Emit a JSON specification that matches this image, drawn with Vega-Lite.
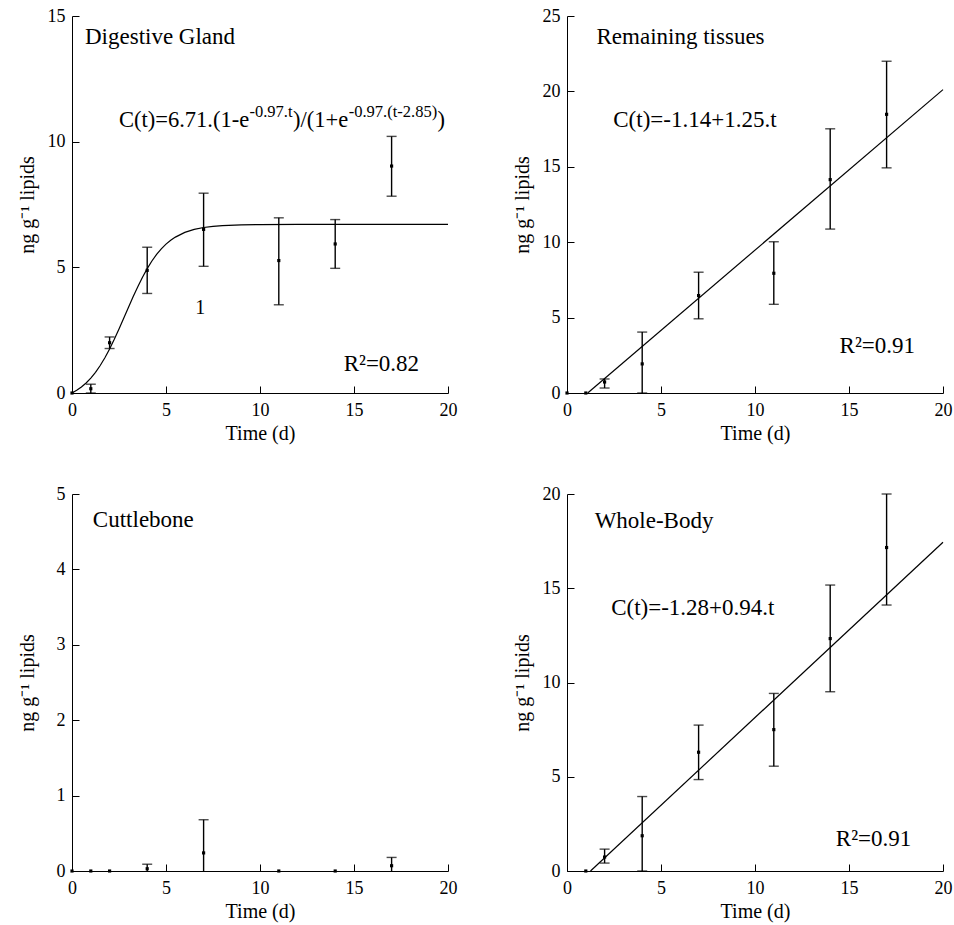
{
  "$schema": "https://vega.github.io/schema/vega-lite/v6.json",
  "background": "white",
  "padding": {"left": 17, "top": 7, "right": 5, "bottom": 5},
  "config": {
    "view": {"stroke": null},
    "font": "Liberation Serif",
    "axis": {
      "grid": false,
      "domainColor": "black",
      "tickColor": "black",
      "labelColor": "black",
      "titleColor": "black",
      "labelFont": "Liberation Serif",
      "titleFont": "Liberation Serif",
      "labelFontSize": 18,
      "titleFontSize": 20,
      "titleFontWeight": "normal",
      "tickSize": -7,
      "domainWidth": 1,
      "tickWidth": 1,
      "labelFlush": false,
      "labelOverlap": false
    },
    "axisX": {"titlePadding": 4, "labelPadding": 15},
    "axisY": {"titlePadding": 10, "labelPadding": 14}
  },
  "datasets": {
    "p1pts": [
      {"t": 0, "v": 0}, {"t": 1, "v": 0.17}, {"t": 2, "v": 2.0}, {"t": 4, "v": 4.88},
      {"t": 7, "v": 6.51}, {"t": 11, "v": 5.27}, {"t": 14, "v": 5.93}, {"t": 17, "v": 9.03}
    ],
    "p1bars": [
      {"t": 1, "v": 0, "v2": 0.35}, {"t": 2, "v": 1.77, "v2": 2.23}, {"t": 4, "v": 3.96, "v2": 5.8},
      {"t": 7, "v": 5.04, "v2": 7.95}, {"t": 11, "v": 3.51, "v2": 6.97}, {"t": 14, "v": 4.96, "v2": 6.9},
      {"t": 17, "v": 7.83, "v2": 10.21}
    ],
    "p1fit": [
      {"t": 0, "v": 0}, {"t": 0.25, "v": 0.108}, {"t": 0.5, "v": 0.239}, {"t": 0.75, "v": 0.4},
      {"t": 1, "v": 0.594}, {"t": 1.25, "v": 0.824}, {"t": 1.5, "v": 1.094}, {"t": 1.75, "v": 1.403},
      {"t": 2, "v": 1.751}, {"t": 2.25, "v": 2.134}, {"t": 2.5, "v": 2.544}, {"t": 2.75, "v": 2.971},
      {"t": 3, "v": 3.403}, {"t": 3.25, "v": 3.827}, {"t": 3.5, "v": 4.232}, {"t": 3.75, "v": 4.609},
      {"t": 4, "v": 4.95}, {"t": 4.25, "v": 5.251}, {"t": 4.5, "v": 5.512}, {"t": 4.75, "v": 5.735},
      {"t": 5, "v": 5.922}, {"t": 5.25, "v": 6.077}, {"t": 5.5, "v": 6.203}, {"t": 6, "v": 6.389},
      {"t": 6.5, "v": 6.509}, {"t": 7, "v": 6.585}, {"t": 7.5, "v": 6.633}, {"t": 8, "v": 6.662},
      {"t": 9, "v": 6.692}, {"t": 10, "v": 6.703}, {"t": 12, "v": 6.709}, {"t": 15, "v": 6.71},
      {"t": 20, "v": 6.71}
    ],
    "p1text": [
      {"t": 0.69, "v": 14.17, "label": "Digestive Gland"},
      {"t": 14.45, "v": 1.15, "label": "R²=0.82"}
    ],
    "p1eq": [
      {"t": 2.5, "v": 10.85, "label": "C(t)=6.71.(1-e"},
      {"t": 11.76, "v": 10.85, "label": ")/(1+e"},
      {"t": 19.44, "v": 10.85, "label": ")"}
    ],
    "p1sup": [
      {"t": 9.44, "v": 11.17, "label": "-0.97.t"},
      {"t": 14.72, "v": 11.17, "label": "-0.97.(t-2.85)"}
    ],
    "p1one": [{"t": 6.55, "v": 3.39, "label": "1"}],
    "p2pts": [
      {"t": 0, "v": 0}, {"t": 1, "v": 0}, {"t": 2, "v": 0.73}, {"t": 4, "v": 1.93},
      {"t": 7, "v": 6.46}, {"t": 11, "v": 7.94}, {"t": 14, "v": 14.15}, {"t": 17, "v": 18.48}
    ],
    "p2bars": [
      {"t": 2, "v": 0.33, "v2": 0.93}, {"t": 4, "v": 0, "v2": 4.04}, {"t": 7, "v": 4.92, "v2": 8.01},
      {"t": 11, "v": 5.88, "v2": 10.03}, {"t": 14, "v": 10.87, "v2": 17.52}, {"t": 17, "v": 14.93, "v2": 22.0}
    ],
    "p2fit": [{"t": 1.1, "v": 0}, {"t": 20, "v": 20.12}],
    "p2text": [
      {"t": 1.57, "v": 23.62, "label": "Remaining tissues"},
      {"t": 2.46, "v": 18.08, "label": "C(t)=-1.14+1.25.t"},
      {"t": 14.5, "v": 3.11, "label": "R²=0.91"}
    ],
    "p3pts": [
      {"t": 0, "v": 0}, {"t": 1, "v": 0}, {"t": 2, "v": 0}, {"t": 4, "v": 0.03},
      {"t": 7, "v": 0.24}, {"t": 11, "v": 0}, {"t": 14, "v": 0}, {"t": 17, "v": 0.07}
    ],
    "p3bars": [
      {"t": 4, "v": 0, "v2": 0.09}, {"t": 7, "v": 0, "v2": 0.68}, {"t": 17, "v": 0, "v2": 0.18}
    ],
    "p3text": [
      {"t": 1.11, "v": 4.66, "label": "Cuttlebone"}
    ],
    "p4pts": [
      {"t": 1, "v": 0}, {"t": 2, "v": 0.74}, {"t": 4, "v": 1.87}, {"t": 7, "v": 6.3},
      {"t": 11, "v": 7.5}, {"t": 14, "v": 12.33}, {"t": 17, "v": 17.16}
    ],
    "p4bars": [
      {"t": 2, "v": 0.42, "v2": 1.16}, {"t": 4, "v": 0, "v2": 3.95}, {"t": 7, "v": 4.85, "v2": 7.74},
      {"t": 11, "v": 5.56, "v2": 9.42}, {"t": 14, "v": 9.51, "v2": 15.17}, {"t": 17, "v": 14.11, "v2": 20.0}
    ],
    "p4fit": [{"t": 1.25, "v": 0}, {"t": 20, "v": 17.44}],
    "p4text": [
      {"t": 1.47, "v": 18.55, "label": "Whole-Body"},
      {"t": 2.35, "v": 13.97, "label": "C(t)=-1.28+0.94.t"},
      {"t": 14.3, "v": 1.71, "label": "R²=0.91"}
    ]
  },
  "columns": 2,
  "spacing": {"row": 101, "column": 119},
  "bounds": "flush",
  "concat": [
    {
      "width": 376, "height": 377,
      "encoding": {
        "x": {"field": "t", "type": "quantitative", "scale": {"domain": [0, 20], "nice": false}, "axis": {"values": [0, 5, 10, 15, 20], "title": "Time (d)"}},
        "y": {"field": "v", "type": "quantitative", "scale": {"domain": [0, 15], "nice": false}, "axis": {"values": [0, 5, 10, 15], "title": "ng g⁻¹ lipids"}}
      },
      "layer": [
        {"data": {"name": "p1fit"}, "mark": {"type": "line", "color": "black", "strokeWidth": 1.2}},
        {"data": {"name": "p1bars"}, "mark": {"type": "rule", "color": "black", "strokeWidth": 1.4}, "encoding": {"y2": {"field": "v2"}}},
        {"data": {"name": "p1bars"}, "transform": [{"fold": ["v", "v2"], "as": ["end", "v"]}], "mark": {"type": "tick", "orient": "horizontal", "size": 10, "thickness": 1.4, "color": "black"}},
        {"data": {"name": "p1pts"}, "mark": {"type": "point", "shape": "square", "filled": true, "size": 10, "color": "black", "opacity": 1}},
        {"data": {"name": "p1text"}, "mark": {"type": "text", "align": "left", "baseline": "middle", "fontSize": 23, "font": "Liberation Serif", "color": "black"}, "encoding": {"text": {"field": "label"}}},
        {"data": {"name": "p1eq"}, "mark": {"type": "text", "align": "left", "baseline": "middle", "fontSize": 22.5, "font": "Liberation Serif", "color": "black"}, "encoding": {"text": {"field": "label"}}},
        {"data": {"name": "p1sup"}, "mark": {"type": "text", "align": "left", "baseline": "middle", "fontSize": 16.5, "font": "Liberation Serif", "color": "black"}, "encoding": {"text": {"field": "label"}}},
        {"data": {"name": "p1one"}, "mark": {"type": "text", "align": "left", "baseline": "middle", "fontSize": 20, "font": "Liberation Serif", "color": "black"}, "encoding": {"text": {"field": "label"}}}
      ]
    },
    {
      "width": 376, "height": 377,
      "encoding": {
        "x": {"field": "t", "type": "quantitative", "scale": {"domain": [0, 20], "nice": false}, "axis": {"values": [0, 5, 10, 15, 20], "title": "Time (d)"}},
        "y": {"field": "v", "type": "quantitative", "scale": {"domain": [0, 25], "nice": false}, "axis": {"values": [0, 5, 10, 15, 20, 25], "title": "ng g⁻¹ lipids"}}
      },
      "layer": [
        {"data": {"name": "p2fit"}, "mark": {"type": "line", "color": "black", "strokeWidth": 1.2}},
        {"data": {"name": "p2bars"}, "mark": {"type": "rule", "color": "black", "strokeWidth": 1.4}, "encoding": {"y2": {"field": "v2"}}},
        {"data": {"name": "p2bars"}, "transform": [{"fold": ["v", "v2"], "as": ["end", "v"]}], "mark": {"type": "tick", "orient": "horizontal", "size": 10, "thickness": 1.4, "color": "black"}},
        {"data": {"name": "p2pts"}, "mark": {"type": "point", "shape": "square", "filled": true, "size": 10, "color": "black", "opacity": 1}},
        {"data": {"name": "p2text"}, "mark": {"type": "text", "align": "left", "baseline": "middle", "fontSize": 23, "font": "Liberation Serif", "color": "black"}, "encoding": {"text": {"field": "label"}}}
      ]
    },
    {
      "width": 376, "height": 377,
      "encoding": {
        "x": {"field": "t", "type": "quantitative", "scale": {"domain": [0, 20], "nice": false}, "axis": {"values": [0, 5, 10, 15, 20], "title": "Time (d)"}},
        "y": {"field": "v", "type": "quantitative", "scale": {"domain": [0, 5], "nice": false}, "axis": {"values": [0, 1, 2, 3, 4, 5], "title": "ng g⁻¹ lipids", "titlePadding": 19}}
      },
      "layer": [
        {"data": {"name": "p3bars"}, "mark": {"type": "rule", "color": "black", "strokeWidth": 1.4}, "encoding": {"y2": {"field": "v2"}}},
        {"data": {"name": "p3bars"}, "transform": [{"fold": ["v2"], "as": ["end", "v"]}], "mark": {"type": "tick", "orient": "horizontal", "size": 10, "thickness": 1.4, "color": "black"}},
        {"data": {"name": "p3pts"}, "mark": {"type": "point", "shape": "square", "filled": true, "size": 10, "color": "black", "opacity": 1}},
        {"data": {"name": "p3text"}, "mark": {"type": "text", "align": "left", "baseline": "middle", "fontSize": 23, "font": "Liberation Serif", "color": "black"}, "encoding": {"text": {"field": "label"}}}
      ]
    },
    {
      "width": 376, "height": 377,
      "encoding": {
        "x": {"field": "t", "type": "quantitative", "scale": {"domain": [0, 20], "nice": false}, "axis": {"values": [0, 5, 10, 15, 20], "title": "Time (d)"}},
        "y": {"field": "v", "type": "quantitative", "scale": {"domain": [0, 20], "nice": false}, "axis": {"values": [0, 5, 10, 15, 20], "title": "ng g⁻¹ lipids"}}
      },
      "layer": [
        {"data": {"name": "p4fit"}, "mark": {"type": "line", "color": "black", "strokeWidth": 1.2}},
        {"data": {"name": "p4bars"}, "mark": {"type": "rule", "color": "black", "strokeWidth": 1.4}, "encoding": {"y2": {"field": "v2"}}},
        {"data": {"name": "p4bars"}, "transform": [{"fold": ["v", "v2"], "as": ["end", "v"]}], "mark": {"type": "tick", "orient": "horizontal", "size": 10, "thickness": 1.4, "color": "black"}},
        {"data": {"name": "p4pts"}, "mark": {"type": "point", "shape": "square", "filled": true, "size": 10, "color": "black", "opacity": 1}},
        {"data": {"name": "p4text"}, "mark": {"type": "text", "align": "left", "baseline": "middle", "fontSize": 23, "font": "Liberation Serif", "color": "black"}, "encoding": {"text": {"field": "label"}}}
      ]
    }
  ]
}
